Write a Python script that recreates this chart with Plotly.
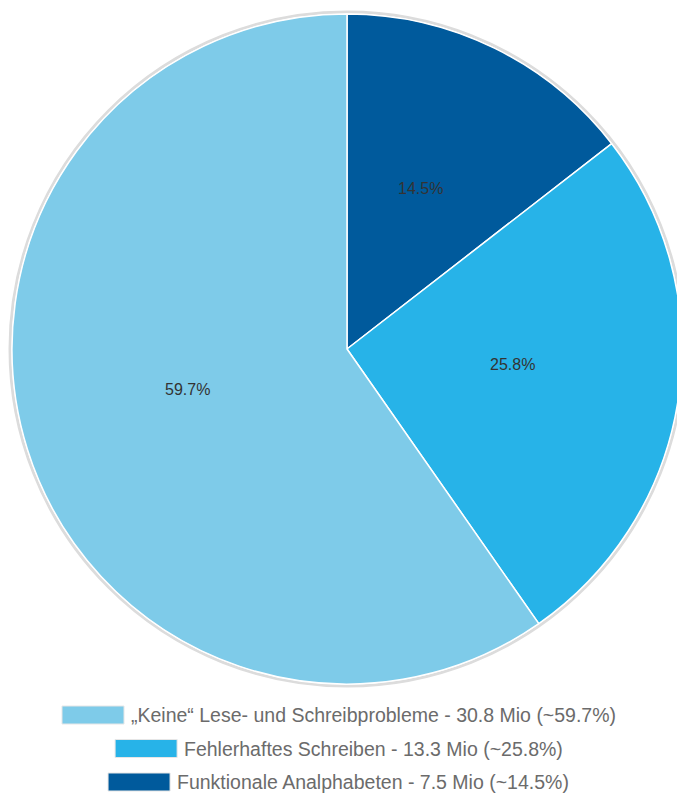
import math
import plotly.graph_objects as go

# Data
labels = ["Funktionale Analphabeten", "Fehlerhaftes Schreiben", "„Keine“ Lese- und Schreibprobleme"]
millions = [7.5, 13.3, 30.8]
percents = [14.5, 25.8, 59.7]
colors = ["#005a9c", "#27b3e8", "#7ecbe9"]

W, H = 692, 796   # slightly wider than the window: the pie's right edge is cropped like the reference
FONT = "Liberation Sans, Arial, sans-serif"

# pie geometry in page pixels
cx, cy, R = 347, 349, 335

def px(x):
    return x / W

def py(y):
    return 1 - y / H

fig = go.Figure(go.Pie(
    labels=labels,
    values=percents,
    textinfo="none",
    marker=dict(colors=colors, line=dict(color="white", width=1.5)),
    sort=False,
    direction="clockwise",
    rotation=0,
    showlegend=False,
    hoverinfo="label+percent",
    domain=dict(x=[px(cx - R), px(cx + R)], y=[py(cy + R), py(cy - R)]),
))

shapes, annotations = [], []

# soft grey rim around the pie
shapes.append(dict(type="circle", xref="paper", yref="paper", layer="below",
                   x0=px(cx - R - 2), x1=px(cx + R + 2),
                   y0=py(cy + R + 2), y1=py(cy - R - 2),
                   line=dict(color="#dcdcdc", width=3)))

# slice labels at mid-angle, half radius
total = sum(percents)
start = 0.0
for p in percents:
    mid = (start + p / 2) / total * 2 * math.pi
    start += p
    tx = cx + 0.5 * R * math.sin(mid)
    ty = cy - 0.5 * R * math.cos(mid) - 10
    annotations.append(dict(xref="paper", yref="paper", x=px(tx), y=py(ty),
                            xanchor="center", yanchor="middle", showarrow=False,
                            text=f"{p:.1f}%",
                            font=dict(family=FONT, size=16, color="#333333")))

# custom legend (centered rows, wide swatches), order reversed
char_w = {" ": 278, "-": 333, ".": 278, "(": 333, ")": 333, "~": 584, "%": 889,
          "„": 333, "“": 333, "i": 222, "l": 222, "j": 222, "f": 278, "t": 278,
          "r": 333, "k": 500, "c": 500, "s": 500, "v": 500, "x": 500, "y": 500,
          "z": 500, "m": 833, "w": 722, "I": 278, "F": 611, "T": 611, "L": 556,
          "M": 833, "W": 944, "C": 722, "D": 722, "H": 722, "N": 722, "R": 722,
          "U": 722, "G": 778, "O": 778, "Q": 778}

def text_width(s, size):
    return sum(char_w.get(ch, 667 if ch.isupper() else 556) for ch in s) / 1000 * size

leg_size = 19.5
box_w, box_h, gap = 62, 18, 5
row_y0, row_dy = 715, 33.5
leg_cx = 338
for i, idx in enumerate(reversed(range(len(labels)))):
    txt = f"{labels[idx]} - {millions[idx]:.1f} Mio (~{percents[idx]:.1f}%)"
    tw = text_width(txt, leg_size)
    x0 = leg_cx - (box_w + gap + tw) / 2
    yc = row_y0 + i * row_dy
    shapes.append(dict(type="rect", xref="paper", yref="paper",
                       x0=px(x0), x1=px(x0 + box_w),
                       y0=py(yc + box_h / 2), y1=py(yc - box_h / 2),
                       fillcolor=colors[idx], line=dict(color="#e6e6e6", width=1)))
    annotations.append(dict(xref="paper", yref="paper", x=px(x0 + box_w + gap),
                            y=py(yc), xanchor="left", yanchor="middle",
                            text=txt, showarrow=False,
                            font=dict(family=FONT, size=leg_size, color="#6b6b6b")))

fig.update_layout(
    width=W, height=H,
    margin=dict(l=0, r=0, t=0, b=0),
    paper_bgcolor="white", plot_bgcolor="white",
    shapes=shapes, annotations=annotations,
)

fig.write_html(
    "out.html",
    config={"displayModeBar": False},
    post_script="document.body.style.margin='0';document.body.style.overflow='hidden';",
)
